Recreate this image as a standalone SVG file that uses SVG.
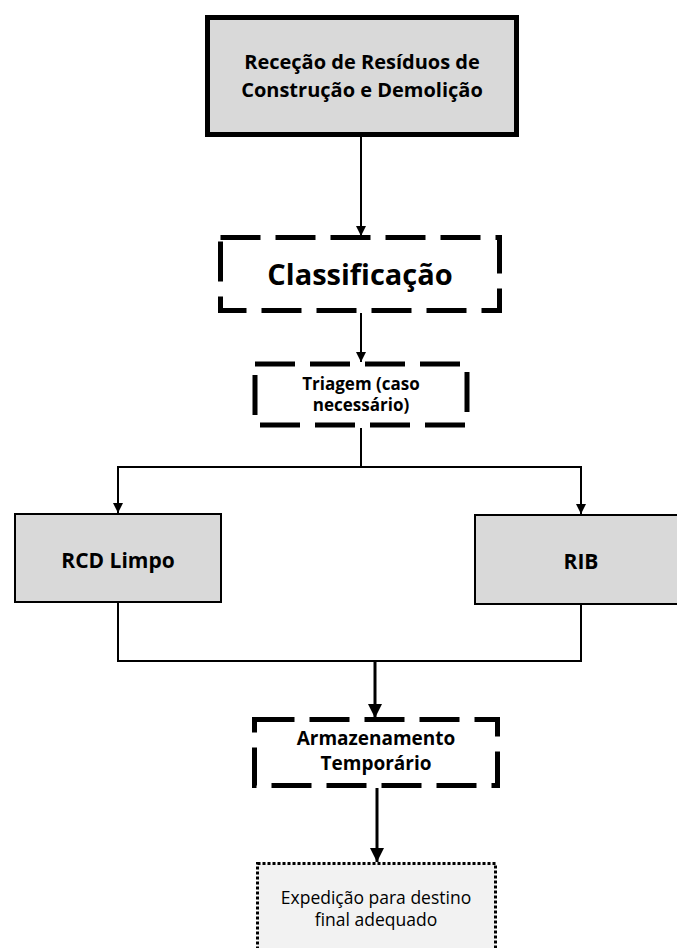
<svg xmlns="http://www.w3.org/2000/svg" width="677" height="948" viewBox="0 0 677 948">
  <defs>
    <marker id="head" markerUnits="userSpaceOnUse" markerWidth="10" markerHeight="10" viewBox="0 0 10 10" refX="10" refY="5" orient="auto">
      <path d="M0,0 L10,5 L0,10 Z" fill="#000"/>
    </marker>
    <marker id="head-lg" markerUnits="userSpaceOnUse" markerWidth="14" markerHeight="14" viewBox="0 0 14 14" refX="14" refY="7" orient="auto">
      <path d="M0,0 L14,7 L0,14 Z" fill="#000"/>
    </marker>
  </defs>
  <style>
    .solid { fill: #d9d9d9; stroke: #000; }
    .dash { fill: #fff; stroke: #000; stroke-width: 5; stroke-dasharray: 40 15; }
    .dot { fill: #f2f2f2; stroke: #000; stroke-width: 3; stroke-dasharray: 3 2; }
    .b { font-family: "Open Sans", "Noto Sans", sans-serif; font-weight: bold; fill: #000; text-anchor: middle; }
    .r { font-family: "Open Sans", "Noto Sans", sans-serif; fill: #000; text-anchor: middle; }
    .wire { fill: none; stroke: #000; stroke-width: 2; }
    .wire-thick { fill: none; stroke: #000; stroke-width: 3; }
  </style>

  <rect width="677" height="948" fill="#fff"/>

  <g id="connectors">
    <path class="wire" d="M361,137 V236" marker-end="url(#head)"/>
    <path class="wire" d="M361,313 V362" marker-end="url(#head)"/>
    <path class="wire" d="M361,428 V467 H118 V513" marker-end="url(#head)"/>
    <path class="wire" d="M361,467 H581 V514" marker-end="url(#head)"/>
    <path class="wire" d="M118,603 V661 H581 V605"/>
    <path class="wire-thick" d="M375,661 V718" marker-end="url(#head-lg)"/>
    <path class="wire-thick" d="M377,788 V862" marker-end="url(#head-lg)"/>
  </g>

  <g id="rececao">
    <rect class="solid" x="207.5" y="17.5" width="309" height="117" stroke-width="5"/>
    <text class="b" x="362" y="69" font-size="20">Receção de Resíduos de</text>
    <text class="b" x="362" y="97" font-size="20">Construção e Demolição</text>
  </g>

  <g id="classificacao">
    <rect class="dash" x="220.5" y="237.5" width="279" height="73"/>
    <text class="b" x="360" y="285" font-size="29">Classificação</text>
  </g>

  <g id="triagem">
    <rect class="dash" x="255" y="364" width="212" height="61" stroke-width="5.5"/>
    <text class="b" x="361" y="390" font-size="17">Triagem (caso</text>
    <text class="b" x="361" y="411" font-size="17">necessário)</text>
  </g>

  <g id="rcd-limpo">
    <rect class="solid" x="15" y="514" width="206" height="88" stroke-width="2"/>
    <text class="b" x="118" y="568" font-size="21">RCD Limpo</text>
  </g>

  <g id="rib">
    <rect class="solid" x="475" y="515" width="220" height="89" stroke-width="2"/>
    <text class="b" x="581" y="569" font-size="21">RIB</text>
  </g>

  <g id="armazenamento">
    <rect class="dash" x="254.5" y="719.5" width="243" height="66"/>
    <text class="b" x="376" y="745" font-size="19">Armazenamento</text>
    <text class="b" x="376" y="770" font-size="19">Temporário</text>
  </g>

  <g id="expedicao">
    <rect class="dot" x="257.5" y="863.5" width="238" height="100"/>
    <text class="r" x="376" y="904" font-size="17.5">Expedição para destino</text>
    <text class="r" x="376" y="926" font-size="17.5">final adequado</text>
  </g>
</svg>
